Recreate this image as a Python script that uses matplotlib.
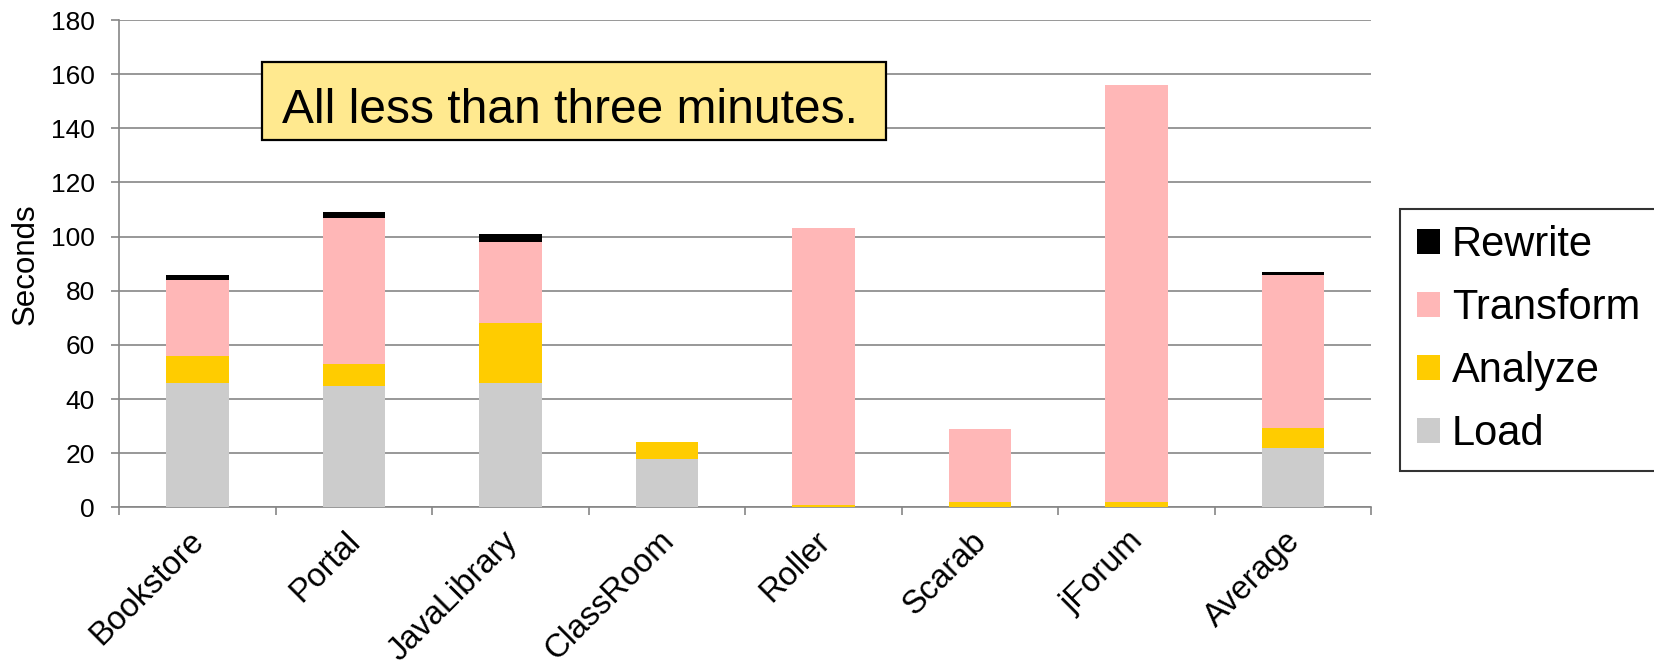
import matplotlib
matplotlib.use("Agg")
import matplotlib.pyplot as plt
import numpy as np
from matplotlib.patches import Rectangle
from matplotlib.transforms import ScaledTranslation

categories = ["Bookstore", "Portal", "JavaLibrary", "ClassRoom", "Roller", "Scarab", "jForum", "Average"]
load = [46, 45, 46, 18, 0, 0, 0, 22.1]
analyze = [10, 8, 22, 6, 1, 2, 2, 7.3]
transform = [28, 54, 30, 0, 102, 27, 154, 56.4]
rewrite = [2, 2, 3, 0, 0, 0, 0, 1.0]
yticks = [0, 20, 40, 60, 80, 100, 120, 140, 160, 180]
series_names = ["Load", "Analyze", "Transform", "Rewrite"]
colors = ["#CCCCCC", "#FFCC00", "#FFB7B7", "#000000"]
note = "All less than three minutes."

plt.rcParams['font.family'] = ['Liberation Sans', 'DejaVu Sans']

W, H = 1654, 662
fig = plt.figure(figsize=(W / 100, H / 100), dpi=100)
ax = fig.add_axes([119.2 / W, 1 - 507.4 / H, (1371.4 - 119.2) / W, (507.4 - 20) / H])

x = np.arange(len(categories))
bottom = np.zeros(len(categories))
handles = []
for name, vals, c in zip(series_names, [load, analyze, transform, rewrite], colors):
    b = ax.bar(x, vals, width=0.4, bottom=bottom, color=c, label=name, zorder=3, linewidth=0)
    handles.append(b)
    bottom = bottom + np.array(vals)

ax.set_xlim(-0.5, len(categories) - 0.5)
ax.set_ylim(0, 180)
ax.set_yticks(yticks)
ax.set_yticklabels([str(v) for v in yticks], fontsize=19)
ax.yaxis.grid(True, color="#868686", linewidth=1.2, zorder=0)
ax.set_axisbelow(True)

for s in ["top", "right"]:
    ax.spines[s].set_visible(False)
for s in ["left", "bottom"]:
    ax.spines[s].set_color("#868686")
    ax.spines[s].set_linewidth(1.2)

ax.tick_params(axis="y", direction="out", length=5.5, width=1.2, color="#868686", pad=12)
ax.set_xticks(x)
ax.set_xticklabels(categories, fontsize=23.5, rotation=45, ha="right", va="top", rotation_mode="anchor")
ax.tick_params(axis="x", which="major", length=0, pad=13)
off = ScaledTranslation(-9 / 100, 0, fig.dpi_scale_trans)
for lab in ax.get_xticklabels():
    lab.set_transform(lab.get_transform() + off)
ax.set_xticks(np.arange(len(categories) + 1) - 0.5, minor=True)
ax.tick_params(axis="x", which="minor", direction="out", length=6, width=1.2, color="#868686")

ax.set_ylabel("Seconds", fontsize=22.5, labelpad=7.5)

# note box
fig.patches.append(Rectangle((262 / W, 1 - 140 / H), 624 / W, 78 / H, transform=fig.transFigure,
                             facecolor="#FFE98F", edgecolor="black", linewidth=1.6, zorder=5))
fig.text(281.7 / W, 1 - 123.4 / H, note, fontsize=34.5, ha="left", va="baseline", zorder=6)

leg = ax.legend(handles[::-1], series_names[::-1], loc="upper left",
                bbox_to_anchor=(1400 / W, 1 - 208.5 / H), bbox_transform=fig.transFigure,
                fontsize=30, frameon=True, fancybox=False, borderaxespad=0,
                handlelength=0.55, handleheight=0.55, handletextpad=0.3, labelspacing=0.55,
                borderpad=0.4)
leg.get_frame().set_edgecolor("black")
leg.get_frame().set_linewidth(1.5)

fig.savefig("out.png", dpi=100)
